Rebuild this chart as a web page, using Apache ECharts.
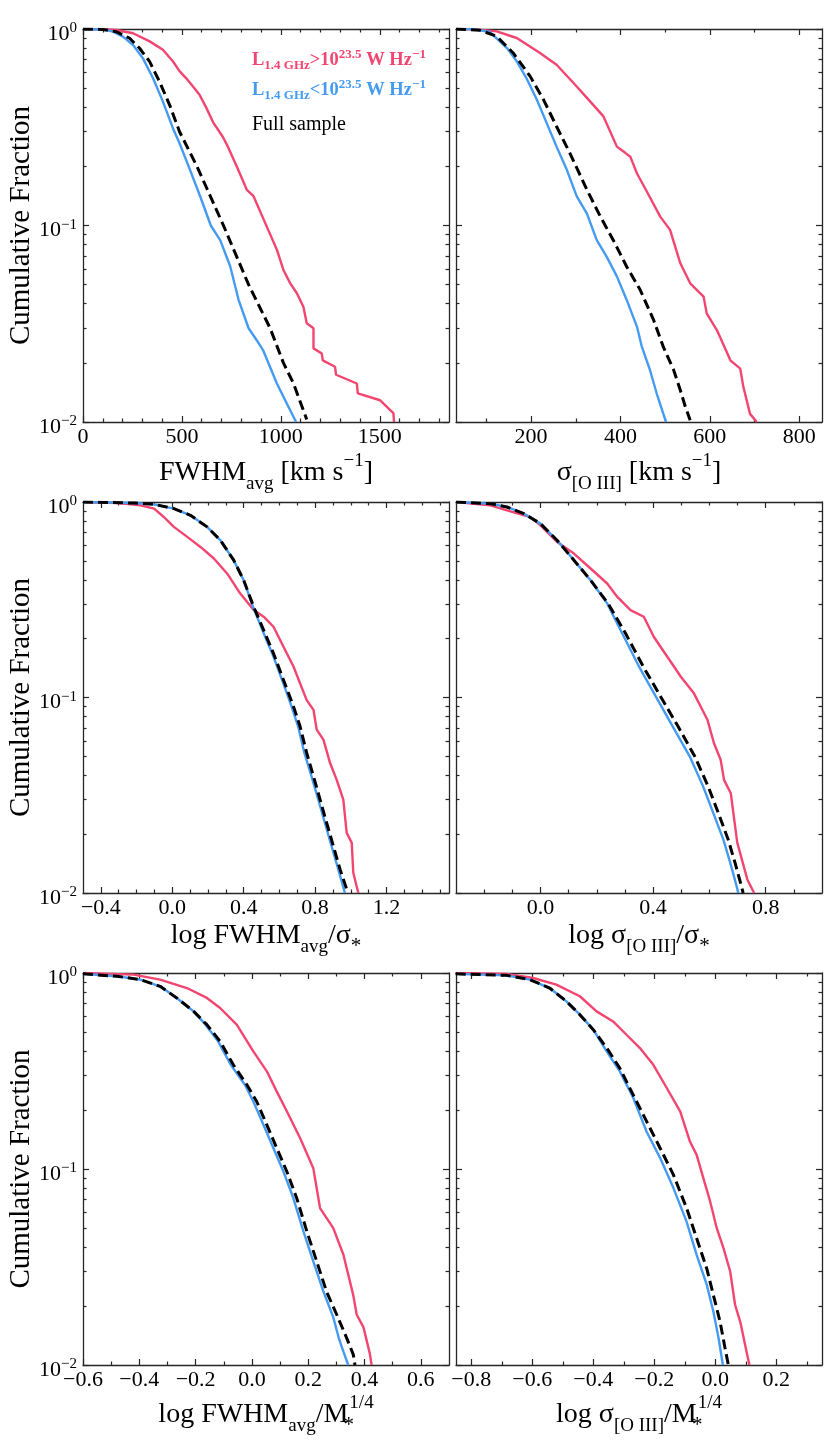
<!DOCTYPE html>
<html>
<head>
<meta charset="utf-8">
<script src="https://cdn.jsdelivr.net/npm/echarts@6/dist/echarts.min.js"></script>
<style>
html,body{margin:0;padding:0;background:#fff;}
#chart{width:830px;height:1453px;}
</style>
</head>
<body>
<div id="chart"></div>
<script>
// ---------------- DATA (cumulative fraction vs. value) ----------------
// Panel 1: FWHM_avg [km/s]
const fwhmRed = [[0,1.0],[101,0.999],[168,0.988],[253,0.951],[337,0.865],[404,0.784],[455,0.683],[488,0.610],[522,0.561],[556,0.51],[589,0.463],[623,0.398],[657,0.336],[707,0.282],[727,0.258],[778,0.199],[828,0.152],[862,0.141],[929,0.0987],[980,0.0753],[1013,0.0594],[1047,0.0509],[1081,0.0452],[1114,0.0386],[1131,0.0318],[1165,0.030],[1165,0.0237],[1207,0.0223],[1212,0.0206],[1274,0.0191],[1279,0.0174],[1384,0.0157],[1389,0.0140],[1502,0.0129],[1569,0.0111],[1572,0.01]];
const fwhmBlue = [[0,1.0],[100,0.995],[152,0.969],[202,0.914],[253,0.829],[303,0.709],[354,0.561],[404,0.427],[455,0.312],[488,0.262],[534,0.2],[593,0.14],[646,0.1],[694,0.084],[744,0.062],[786,0.042],[837,0.030],[879,0.026],[912,0.023],[946,0.019],[980,0.0157],[1022,0.0129],[1077,0.01]];
const fwhmFull = [[0,1.0],[100,0.995],[168,0.969],[236,0.897],[286,0.798],[337,0.682],[387,0.539],[438,0.41],[488,0.30],[576,0.2],[710,0.1],[837,0.05],[946,0.03],[1013,0.02],[1064,0.0157],[1131,0.0103]];
// Panel 2: sigma_[O III] [km/s]
const sigRed = [[32,1.0],[71,0.999],[123,0.973],[168,0.90],[220,0.755],[257,0.658],[295,0.531],[332,0.428],[362,0.359],[392,0.252],[410,0.235],[422,0.224],[437,0.184],[459,0.149],[489,0.111],[511,0.095],[534,0.0642],[556,0.0508],[586,0.0435],[593,0.0357],[616,0.0293],[646,0.0206],[668,0.0187],[675,0.0151],[690,0.0110],[705,0.01]];
const sigBlue = [[32,1.0],[71,0.998],[108,0.965],[146,0.80],[168,0.685],[190,0.56],[213,0.436],[235,0.332],[257,0.252],[280,0.192],[302,0.141],[325,0.115],[347,0.0842],[369,0.0694],[392,0.0551],[414,0.0418],[437,0.0305],[448,0.0241],[466,0.0184],[481,0.0140],[496,0.0110],[502,0.01]];
const sigFull = [[32,1.0],[86,0.985],[123,0.918],[160,0.755],[198,0.574],[228,0.436],[257,0.319],[287,0.233],[325,0.152],[355,0.111],[384,0.0842],[414,0.0617],[444,0.0471],[474,0.0331],[496,0.0241],[519,0.0184],[534,0.0145],[545,0.0120],[556,0.0102]];
// Panel 3: log FWHM_avg / sigma_*
const fsRed = [[-0.5,1.0],[-0.307,0.988],[-0.177,0.961],[-0.102,0.925],[-0.047,0.838],[0.009,0.746],[0.084,0.663],[0.158,0.589],[0.233,0.514],[0.307,0.431],[0.381,0.340],[0.456,0.280],[0.512,0.259],[0.567,0.230],[0.642,0.168],[0.679,0.144],[0.716,0.118],[0.753,0.097],[0.791,0.0865],[0.809,0.0685],[0.847,0.0607],[0.884,0.0462],[0.921,0.0379],[0.958,0.030],[0.977,0.0203],[1.005,0.0181],[1.014,0.0127],[1.042,0.01]];
const fsBlue = [[-0.5,1.0],[-0.214,0.988],[-0.102,0.973],[0.009,0.925],[0.102,0.855],[0.195,0.746],[0.270,0.637],[0.344,0.504],[0.400,0.398],[0.452,0.291],[0.505,0.221],[0.560,0.168],[0.615,0.123],[0.668,0.090],[0.705,0.071],[0.740,0.052],[0.780,0.0395],[0.818,0.030],[0.855,0.0228],[0.892,0.0174],[0.930,0.0132],[0.967,0.01]];
const fsFull = [[-0.5,1.0],[-0.214,0.988],[-0.102,0.973],[0.009,0.925],[0.102,0.855],[0.195,0.746],[0.270,0.637],[0.344,0.504],[0.400,0.398],[0.456,0.291],[0.512,0.221],[0.567,0.168],[0.623,0.123],[0.679,0.090],[0.716,0.071],[0.753,0.052],[0.791,0.0395],[0.828,0.030],[0.865,0.0228],[0.902,0.0174],[0.940,0.0132],[0.984,0.01]];
// Panel 4: log sigma_[O III] / sigma_*
const ssRed = [[-0.3,1.0],[-0.178,0.961],[-0.119,0.906],[-0.036,0.838],[0,0.760],[0.059,0.625],[0.119,0.545],[0.178,0.457],[0.237,0.383],[0.273,0.327],[0.320,0.280],[0.367,0.259],[0.403,0.204],[0.450,0.162],[0.498,0.128],[0.545,0.105],[0.569,0.090],[0.593,0.077],[0.616,0.0585],[0.640,0.048],[0.652,0.0379],[0.676,0.0324],[0.699,0.0181],[0.735,0.0117],[0.759,0.01]];
const ssBlue = [[-0.3,1.0],[-0.178,0.981],[-0.119,0.943],[-0.059,0.872],[0,0.775],[0.059,0.637],[0.119,0.504],[0.178,0.398],[0.237,0.303],[0.290,0.213],[0.350,0.144],[0.410,0.101],[0.470,0.071],[0.530,0.050],[0.578,0.035],[0.614,0.0256],[0.650,0.0187],[0.674,0.0143],[0.697,0.0108],[0.703,0.01]];
const ssFull = [[-0.3,1.0],[-0.178,0.981],[-0.119,0.943],[-0.059,0.872],[0,0.775],[0.059,0.637],[0.119,0.504],[0.178,0.398],[0.240,0.303],[0.302,0.213],[0.365,0.144],[0.427,0.101],[0.489,0.071],[0.548,0.050],[0.596,0.035],[0.632,0.0256],[0.667,0.0187],[0.691,0.0143],[0.714,0.0108],[0.720,0.01]];
// Panel 5: log FWHM_avg / M_*^(1/4)
const fmRed = [[-0.6,1.0],[-0.420,0.981],[-0.326,0.925],[-0.231,0.838],[-0.160,0.746],[-0.113,0.663],[-0.054,0.545],[0.005,0.398],[0.053,0.315],[0.088,0.249],[0.124,0.197],[0.171,0.144],[0.218,0.101],[0.242,0.0632],[0.289,0.0499],[0.325,0.0365],[0.348,0.0267],[0.360,0.0227],[0.372,0.0181],[0.396,0.0156],[0.419,0.0114],[0.425,0.01]];
const fmBlue = [[-0.6,0.99],[-0.479,0.962],[-0.397,0.925],[-0.326,0.855],[-0.267,0.746],[-0.207,0.637],[-0.165,0.545],[-0.120,0.448],[-0.075,0.340],[-0.025,0.269],[0.005,0.221],[0.041,0.168],[0.076,0.128],[0.112,0.097],[0.147,0.0711],[0.183,0.0481],[0.218,0.0338],[0.254,0.0237],[0.289,0.0175],[0.310,0.0135],[0.325,0.0117],[0.342,0.01]];
const fmFull = [[-0.6,0.99],[-0.479,0.962],[-0.397,0.925],[-0.326,0.855],[-0.267,0.746],[-0.207,0.637],[-0.160,0.545],[-0.113,0.448],[-0.066,0.340],[-0.018,0.269],[0.017,0.221],[0.053,0.168],[0.088,0.128],[0.124,0.097],[0.159,0.0711],[0.195,0.0481],[0.230,0.0338],[0.265,0.0237],[0.301,0.0181],[0.336,0.0138],[0.360,0.0113],[0.366,0.01]];
// Panel 6: log sigma_[O III] / M_*^(1/4)
const smRed = [[-0.851,1.0],[-0.685,0.988],[-0.597,0.943],[-0.521,0.872],[-0.444,0.761],[-0.389,0.637],[-0.335,0.566],[-0.291,0.484],[-0.247,0.414],[-0.203,0.340],[-0.159,0.259],[-0.115,0.197],[-0.083,0.138],[-0.061,0.118],[-0.039,0.0899],[-0.017,0.0685],[0.005,0.0499],[0.027,0.0395],[0.049,0.030],[0.065,0.0203],[0.082,0.0166],[0.104,0.0114],[0.112,0.01]];
const smBlue = [[-0.851,0.99],[-0.685,0.973],[-0.608,0.925],[-0.543,0.838],[-0.488,0.717],[-0.444,0.613],[-0.400,0.514],[-0.356,0.398],[-0.313,0.315],[-0.269,0.231],[-0.225,0.155],[-0.181,0.114],[-0.137,0.0799],[-0.094,0.0539],[-0.061,0.0365],[-0.028,0.0257],[-0.006,0.0187],[0.011,0.0137],[0.025,0.01]];
const smFull = [[-0.851,0.99],[-0.685,0.973],[-0.608,0.925],[-0.543,0.838],[-0.488,0.717],[-0.444,0.613],[-0.400,0.514],[-0.356,0.415],[-0.313,0.327],[-0.269,0.239],[-0.225,0.175],[-0.181,0.128],[-0.137,0.0933],[-0.094,0.0632],[-0.061,0.0443],[-0.028,0.0311],[-0.006,0.0227],[0.016,0.0166],[0.032,0.0122],[0.043,0.01]];

// tick labels
const fwhmTicks = [0, 500, 1000, 1500];
const sigTicks = [200, 400, 600, 800];
const fsTicks = [-0.4, 0.0, 0.4, 0.8, 1.2];
const ssTicks = [0.0, 0.4, 0.8];
const fmTicks = [-0.6, -0.4, -0.2, 0.0, 0.2, 0.4, 0.6];
const smTicks = [-0.8, -0.6, -0.4, -0.2, 0.0, 0.2];
const yTickDecades = [0.01, 0.1, 1];

const legendTexts = ['Full sample'];

// ---------------- STYLE ----------------
const FONT = 'Liberation Serif';
const RED = '#F24570';
const BLUE = '#459BF2';
const AXC = '#262626';

const fmtInt = v => String(Math.round(v));
const fmtDec = v => { const r = Math.abs(v) < 1e-9 ? 0 : v; return r.toFixed(1).replace('-', '\u2212'); };

const panels = [
  {grid:{left:83, top:29, width:366, height:393}, xMin:0, xMax:1850, majors:fwhmTicks, minorStep:100, fmt:fmtInt,
   name:'{m|FWHM}{s|avg}{m| [km s}{p|\u22121}{m|]}', gap:30, red:fwhmRed, blue:fwhmBlue, full:fwhmFull},
  {grid:{left:456, top:29, width:366, height:393}, xMin:32, xMax:851, majors:sigTicks, minorStep:100, fmt:fmtInt,
   name:'{m|\u03c3}{s|[O III]}{m| [km s}{p|\u22121}{m|]}', gap:30, red:sigRed, blue:sigBlue, full:sigFull},
  {grid:{left:83, top:502, width:366, height:391}, xMin:-0.5, xMax:1.55, majors:fsTicks, minorStep:0.1, fmt:fmtDec,
   name:'{m|log FWHM}{s|avg}{m|/\u03c3}{a|*}', gap:22, red:fsRed, blue:fsBlue, full:fsFull},
  {grid:{left:456, top:502, width:366, height:391}, xMin:-0.3, xMax:1.0, majors:ssTicks, minorStep:0.1, fmt:fmtDec,
   name:'{m|log \u03c3}{s|[O III]}{m|/\u03c3}{a|*}', gap:22, red:ssRed, blue:ssBlue, full:ssFull},
  {grid:{left:83, top:973, width:366, height:392}, xMin:-0.6, xMax:0.7, majors:fmTicks, minorStep:0.1, fmt:fmtDec,
   name:'{m|log FWHM}{s|avg}{m|/M}{w|*}{q|1/4}', gap:29, red:fmRed, blue:fmBlue, full:fmFull},
  {grid:{left:456, top:973, width:366, height:392}, xMin:-0.85, xMax:0.35, majors:smTicks, minorStep:0.1, fmt:fmtDec,
   name:'{m|log \u03c3}{s|[O III]}{m|/M}{w|*}{q|1/4}', gap:29, red:smRed, blue:smBlue, full:smFull}
];

function minorValues(min, max, step, majors) {
  const out = [];
  const k0 = Math.ceil(min / step - 1e-9), k1 = Math.floor(max / step + 1e-9);
  for (let k = k0; k <= k1; k++) {
    const v = Math.round(k * step * 1e6) / 1e6;
    if (!majors.some(m => Math.abs(m - v) < 1e-6) && v > min + 1e-9 && v < max - 1e-9) out.push(v);
  }
  return out;
}
const yMinorVals = [];
yTickDecades.slice(0, 2).forEach(d => { for (let k = 2; k <= 9; k++) yMinorVals.push(Math.log10(k * d)); });

const nameRich = {
  m: {fontFamily:FONT, fontSize:28, lineHeight:42, color:'#000'},
  s: {fontFamily:FONT, fontSize:19, lineHeight:29, verticalAlign:'bottom', color:'#000'},
  a: {fontFamily:FONT, fontSize:21, lineHeight:17, verticalAlign:'bottom', color:'#000'},
  w: {fontFamily:FONT, fontSize:21, lineHeight:17, verticalAlign:'bottom', color:'#000', width:1},
  p: {fontFamily:FONT, fontSize:19, lineHeight:1, verticalAlign:'top', color:'#000'},
  q: {fontFamily:FONT, fontSize:19, lineHeight:7, verticalAlign:'top', color:'#000'}
};
const tickStyle = {color:AXC, width:1.2};
const lineAx = {show:true, onZero:false, lineStyle:{color:AXC, width:1.3}};
const noLine = {show:false, onZero:false};

const grid = [], xAxis = [], yAxis = [], series = [];
panels.forEach((p, g) => {
  const col = g % 2;
  grid.push(Object.assign({outerBoundsMode:'none', containLabel:false}, p.grid));
  const minors = minorValues(p.xMin, p.xMax, p.minorStep, p.majors);
  const baseX = {gridIndex:g, type:'value', min:p.xMin, max:p.xMax, splitLine:{show:false}, minorTick:{show:false}, silent:true};
  xAxis.push(Object.assign({}, baseX, {
    position:'bottom', axisLine:lineAx,
    axisTick:{show:true, inside:true, length:6, customValues:p.majors, lineStyle:tickStyle},
    axisLabel:{show:true, customValues:p.majors, formatter:p.fmt, margin:4, fontFamily:FONT, fontSize:22, lineHeight:22, color:'#000'},
    name:p.name, nameLocation:'middle', nameGap:p.gap, nameMoveOverlap:false,
    nameTextStyle:{fontFamily:FONT, color:'#000', rich:nameRich}
  }));
  xAxis.push(Object.assign({}, baseX, {position:'bottom', axisLine:noLine,
    axisTick:{show:true, inside:true, length:3.5, customValues:minors, lineStyle:tickStyle}, axisLabel:{show:false}}));
  xAxis.push(Object.assign({}, baseX, {position:'top', axisLine:lineAx,
    axisTick:{show:true, inside:true, length:6, customValues:p.majors, lineStyle:tickStyle}, axisLabel:{show:false}}));
  xAxis.push(Object.assign({}, baseX, {position:'top', axisLine:noLine,
    axisTick:{show:true, inside:true, length:3.5, customValues:minors, lineStyle:tickStyle}, axisLabel:{show:false}}));

  const baseLog = {gridIndex:g, type:'log', logBase:10, min:yTickDecades[0], max:yTickDecades[2], splitLine:{show:false}, minorTick:{show:false}, silent:true};
  const baseMinY = {gridIndex:g, type:'value', min:-2, max:0, splitLine:{show:false}, minorTick:{show:false}, silent:true, axisLine:noLine, axisLabel:{show:false},
    axisTick:{show:true, inside:true, length:3.5, customValues:yMinorVals, lineStyle:tickStyle}};
  const mainY = Object.assign({}, baseLog, {
    position:'left', axisLine:lineAx,
    axisTick:{show:true, inside:true, length:6, lineStyle:tickStyle},
    axisLabel: col === 0 ? {
      show:true, margin:6, padding:[10,0,0,0],
      formatter: v => { const e = Math.round(Math.log10(v)); return '{b|10}{e|' + (e < 0 ? '\u2212' + (-e) : e) + '}'; },
      rich:{ b:{fontFamily:FONT, fontSize:22, lineHeight:26, color:'#000'}, e:{fontFamily:FONT, fontSize:15, lineHeight:7, verticalAlign:'top', color:'#000'} }
    } : {show:false}
  });
  if (col === 0) {
    Object.assign(mainY, {name:'Cumulative Fraction', nameLocation:'middle', nameRotate:90, nameGap:46, nameMoveOverlap:false,
      nameTextStyle:{fontFamily:FONT, fontSize:29, lineHeight:32, color:'#000'}});
  }
  yAxis.push(mainY);
  yAxis.push(Object.assign({}, baseMinY, {position:'left'}));
  yAxis.push(Object.assign({}, baseLog, {position:'right', axisLine:lineAx,
    axisTick:{show:true, inside:true, length:6, lineStyle:tickStyle}, axisLabel:{show:false}}));
  yAxis.push(Object.assign({}, baseMinY, {position:'right'}));

  const ai = 4 * g;
  const mk = (data, color, width, type) => ({
    type:'line', xAxisIndex:ai, yAxisIndex:ai, data:data, symbol:'none', showSymbol:false, silent:true,
    lineStyle:{color:color, width:width, type:type}, itemStyle:{color:color}, animation:false
  });
  series.push(mk(p.red, RED, 2.4, 'solid'));
  series.push(mk(p.blue, BLUE, 2.4, 'solid'));
  series.push(mk(p.full, '#000', 3, [10, 5]));
});

const legRich = c => ({
  L:{fontFamily:FONT, fontSize:18.5, fontWeight:'bold', lineHeight:24, color:c},
  s:{fontFamily:FONT, fontSize:13, fontWeight:'bold', lineHeight:15, verticalAlign:'bottom', color:c},
  p:{fontFamily:FONT, fontSize:13, fontWeight:'bold', lineHeight:8.6, verticalAlign:'top', color:c}
});
const title = [
  {left:252, top:48, padding:0, text:'{L|L}{s|1.4 GHz}{L|>10}{p|23.5}{L| W Hz}{p|\u22121}', textStyle:{rich:legRich(RED)}},
  {left:252, top:78, padding:0, text:'{L|L}{s|1.4 GHz}{L|<10}{p|23.5}{L| W Hz}{p|\u22121}', textStyle:{rich:legRich(BLUE)}},
  {left:252, top:112.6, padding:0, text:legendTexts[0], textStyle:{fontFamily:FONT, fontSize:20, fontWeight:'normal', lineHeight:24, color:'#000'}}
];

const chart = echarts.init(document.getElementById('chart'), null, {renderer:'canvas'});
chart.setOption({
  backgroundColor:'#fff',
  animation:false,
  textStyle:{fontFamily:FONT},
  title:title,
  grid:grid,
  xAxis:xAxis,
  yAxis:yAxis,
  series:series
});
</script>
</body>
</html>
